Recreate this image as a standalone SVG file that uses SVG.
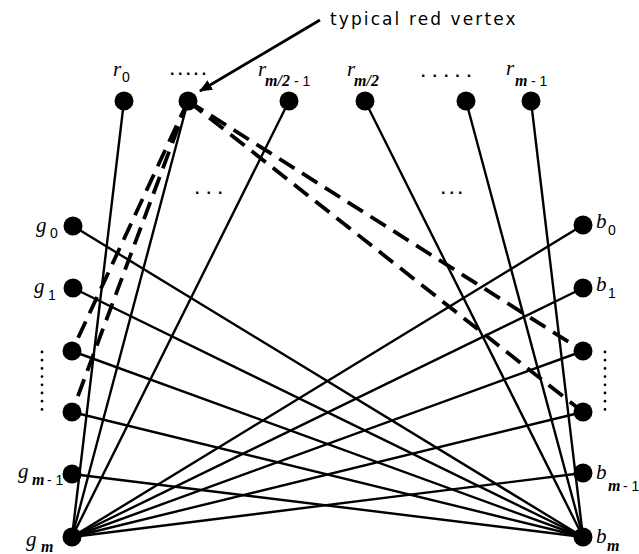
<svg xmlns="http://www.w3.org/2000/svg" width="639" height="554" viewBox="0 0 639 554">
  <style>
    .edge{stroke:#000;stroke-width:2.4;fill:none;stroke-linecap:round}
    .dash{stroke:#000;stroke-width:3.8;fill:none;stroke-dasharray:18 9}
    .node{fill:#000}
    .var{font-family:"Liberation Serif",serif;font-style:italic;font-size:21px}
    .num{font-family:"Liberation Sans",sans-serif;font-size:14px}
    .m{font-family:"Liberation Serif",serif;font-style:italic;font-weight:bold;font-size:16px}
    .note{font-family:"DejaVu Sans",sans-serif;font-size:17px;letter-spacing:2.1px}
    .dots{font-family:"Liberation Sans",sans-serif;font-size:16px;font-weight:bold}
    .vdots{stroke:#000;stroke-width:2.8;stroke-linecap:round;stroke-dasharray:0 8.2;fill:none}
  </style>
  <defs>
    <marker id="arrow" markerWidth="13" markerHeight="11" refX="12" refY="5.5" orient="auto" markerUnits="userSpaceOnUse">
      <path d="M0,0 L13,5.5 L0,11 Z" fill="#000"/>
    </marker>
  </defs>

  <!-- connectors -->
  <g id="connectors">
    <!-- red vertices to g_m / b_m -->
    <line class="edge" x1="124" y1="101" x2="72" y2="537"/>
    <line class="edge" x1="188" y1="101" x2="72" y2="537"/>
    <line class="edge" x1="289" y1="101" x2="72" y2="537"/>
    <line class="edge" x1="365" y1="101" x2="583" y2="537"/>
    <line class="edge" x1="466" y1="101" x2="583" y2="537"/>
    <line class="edge" x1="531" y1="101" x2="583" y2="537"/>
    <!-- green vertices to b_m -->
    <line class="edge" x1="73" y1="226" x2="583" y2="537"/>
    <line class="edge" x1="73" y1="288" x2="583" y2="537"/>
    <line class="edge" x1="72" y1="351" x2="583" y2="537"/>
    <line class="edge" x1="72" y1="412" x2="583" y2="537"/>
    <line class="edge" x1="72" y1="474" x2="583" y2="537"/>
    <!-- blue vertices to g_m -->
    <line class="edge" x1="583" y1="225" x2="72" y2="537"/>
    <line class="edge" x1="583" y1="288" x2="72" y2="537"/>
    <line class="edge" x1="583" y1="351" x2="72" y2="537"/>
    <line class="edge" x1="583" y1="412" x2="72" y2="537"/>
    <line class="edge" x1="583" y1="473" x2="72" y2="537"/>
    <!-- dashed edges of the typical red vertex -->
    <path class="dash" d="M188,101 L72,351"/>
    <path class="dash" d="M188,101 L72,412"/>
    <path class="dash" d="M188,101 L583,351"/>
    <path class="dash" d="M188,101 L583,412"/>
    <!-- pointer to the typical red vertex -->
    <line x1="320" y1="20" x2="200" y2="91" stroke="#000" stroke-width="2.8" marker-end="url(#arrow)"/>
  </g>

  <!-- red vertices -->
  <g id="r0"><circle class="node" cx="124" cy="101" r="9.5"/>
    <text class="var" x="113" y="76">r</text><text class="num" x="122" y="82">0</text></g>
  <g id="r-typical"><circle class="node" cx="188" cy="101" r="9.5"/></g>
  <g id="r-m2-1"><circle class="node" cx="289" cy="101" r="9.5"/>
    <text class="var" x="258" y="76">r</text><text class="m" x="265" y="86">m/2</text><text class="num" x="294" y="86">- 1</text></g>
  <g id="r-m2"><circle class="node" cx="365" cy="101" r="9.5"/>
    <text class="var" x="347" y="76">r</text><text class="m" x="354" y="86">m/2</text></g>
  <g id="r-k"><circle class="node" cx="466" cy="101" r="9.5"/></g>
  <g id="r-m-1"><circle class="node" cx="531" cy="101" r="9.5"/>
    <text class="var" x="506" y="75">r</text><text class="m" x="515" y="86">m</text><text class="num" x="531" y="86">- 1</text></g>

  <!-- green vertices -->
  <g id="g0"><circle class="node" cx="73" cy="226" r="9.5"/>
    <text class="var" x="36" y="232">g</text><text class="num" x="50" y="238">0</text></g>
  <g id="g1"><circle class="node" cx="73" cy="288" r="9.5"/>
    <text class="var" x="34" y="293">g</text><text class="num" x="48" y="300">1</text></g>
  <g id="g-i"><circle class="node" cx="72" cy="351" r="9.5"/></g>
  <g id="g-j"><circle class="node" cx="72" cy="412" r="9.5"/></g>
  <g id="g-m-1"><circle class="node" cx="72" cy="474" r="9.5"/>
    <text class="var" x="18" y="478">g</text><text class="m" x="32" y="485">m</text><text class="num" x="47" y="485">- 1</text></g>
  <g id="g-m"><circle class="node" cx="72" cy="537" r="9.5"/>
    <text class="var" x="26" y="546">g</text><text class="m" x="41" y="552">m</text></g>

  <!-- blue vertices -->
  <g id="b0"><circle class="node" cx="583" cy="225" r="9.5"/>
    <text class="var" x="596" y="228">b</text><text class="num" x="608" y="235">0</text></g>
  <g id="b1"><circle class="node" cx="583" cy="288" r="9.5"/>
    <text class="var" x="596" y="291">b</text><text class="num" x="608" y="298">1</text></g>
  <g id="b-i"><circle class="node" cx="583" cy="351" r="9.5"/></g>
  <g id="b-j"><circle class="node" cx="583" cy="412" r="9.5"/></g>
  <g id="b-m-1"><circle class="node" cx="583" cy="473" r="9.5"/>
    <text class="var" x="596" y="479">b</text><text class="m" x="608" y="491">m</text><text class="num" x="623" y="491">- 1</text></g>
  <g id="b-m"><circle class="node" cx="583" cy="537" r="9.5"/>
    <text class="var" x="596" y="543">b</text><text class="m" x="607" y="551">m</text></g>

  <!-- ellipses between vertices -->
  <text class="dots" x="170" y="75" letter-spacing="3.5">.....</text>
  <text class="dots" x="421" y="77" letter-spacing="7">.....</text>
  <text class="dots" x="195" y="194" letter-spacing="7">...</text>
  <text class="dots" x="441" y="194" letter-spacing="4">...</text>
  <path class="vdots" d="M42,352 L42,410"/>
  <path class="vdots" d="M605,352 L605,410"/>

  <!-- annotation -->
  <text class="note" x="330" y="25">typical red vertex</text>
</svg>
